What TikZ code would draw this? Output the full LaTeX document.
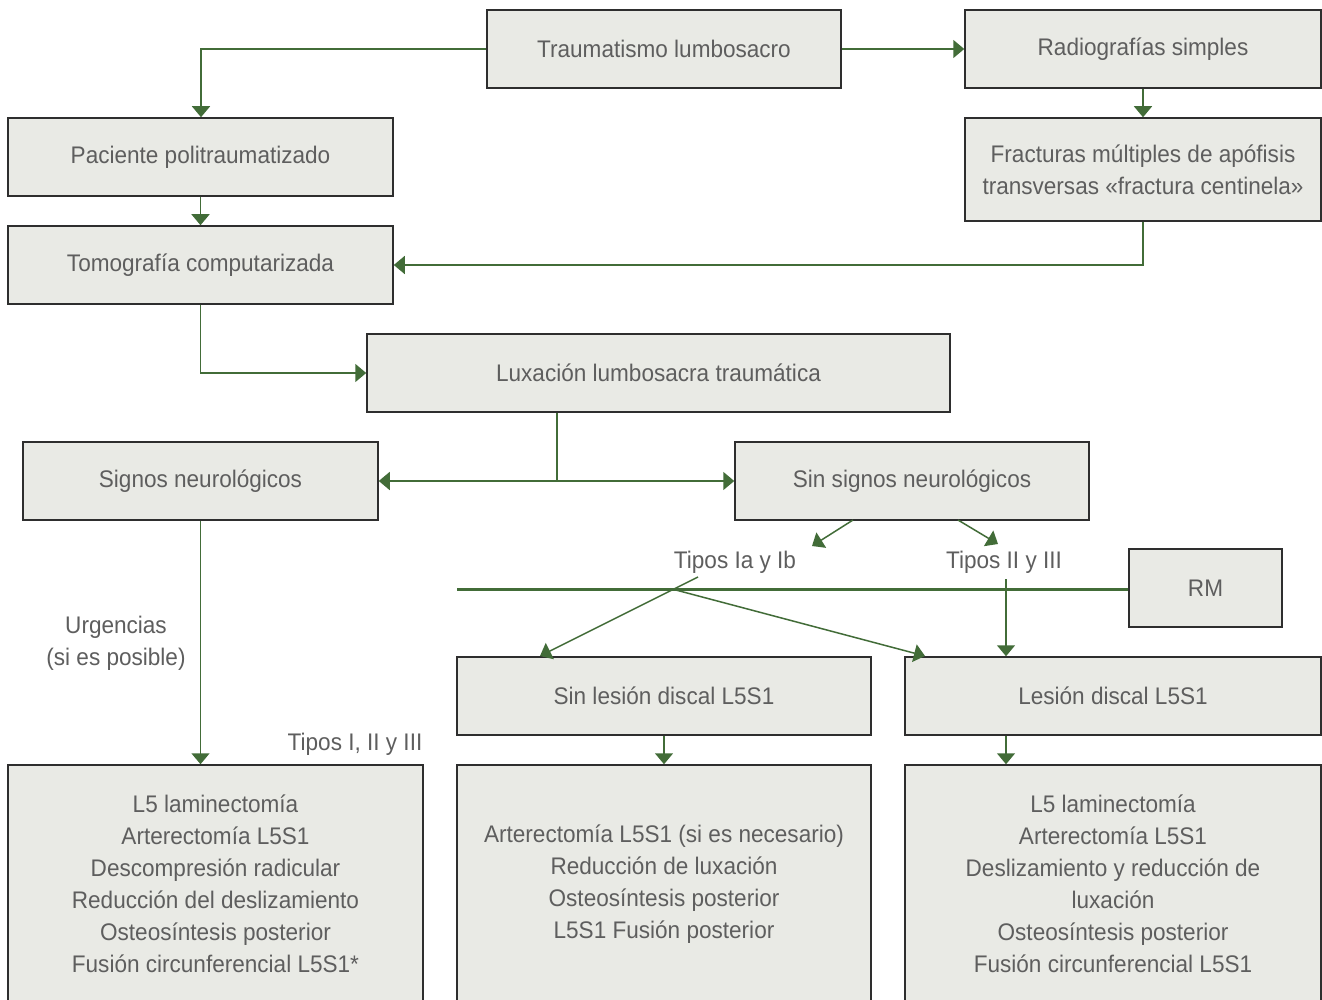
\documentclass[tikz,border=0pt]{standalone}
\usepackage{fontspec}
\setmainfont{Liberation Sans}[FakeStretch=0.94]
\usetikzlibrary{arrows.meta}
\definecolor{gfill}{HTML}{E9EAE5}
\definecolor{gline}{HTML}{426C38}
\definecolor{gtext}{HTML}{5E5E5E}
\definecolor{gborder}{HTML}{2E2E2E}
\begin{document}
\begin{tikzpicture}[x=1pt,y=-1pt,
  box/.style={draw=gborder, line width=1.5pt, fill=gfill, text=gtext, align=center,
    inner sep=0pt, font=\fontsize{24}{32}\selectfont},
  lbl/.style={text=gtext, align=center, inner sep=0pt, font=\fontsize{24}{32}\selectfont},
  conn/.style={draw=gline, line width=1.5pt},
  arr/.style={conn, -{Triangle[width=18pt,length=11pt]}},
  darr/.style={conn, {Triangle[width=18pt,length=11pt]}-{Triangle[width=18pt,length=11pt]}}]
\clip (0,0) rectangle (1322,1000);
\fill[white] (0,0) rectangle (1322,1000);

\node[box, minimum width=354pt, minimum height=78pt] (trauma) at (664,49) {Traumatismo lumbosacro};
\node[box, minimum width=356pt, minimum height=78pt] (radio) at (1143,49) {Radiografías simples};
\node[box, minimum width=385pt, minimum height=78pt] (pac) at (200.5,157) {Paciente politraumatizado};
\node[box, minimum width=356pt, minimum height=103pt] (frac) at (1143,169.5) {Fracturas múltiples de apófisis\\transversas «fractura centinela»};
\node[box, minimum width=385pt, minimum height=78pt] (tomo) at (200.5,265) {Tomografía computarizada};
\node[box, minimum width=583pt, minimum height=78pt] (lux) at (658.5,373) {Luxación lumbosacra traumática};
\node[box, minimum width=355pt, minimum height=78pt] (sig) at (200.5,481) {Signos neurológicos};
\node[box, minimum width=354pt, minimum height=78pt] (sinsig) at (912,481) {Sin signos neurológicos};
\node[box, minimum width=153pt, minimum height=78pt] (rm) at (1205.5,588) {RM};
\node[box, minimum width=414pt, minimum height=78pt] (sinles) at (664,696) {Sin lesión discal L5S1};
\node[box, minimum width=416pt, minimum height=78pt] (les) at (1113,696) {Lesión discal L5S1};

\node[box, minimum width=415pt, minimum height=238pt] (bl) at (215.5,884) {L5 laminectomía\\Arterectomía L5S1\\Descompresión radicular\\Reducción del deslizamiento\\Osteosíntesis posterior\\Fusión circunferencial L5S1*};
\node[box, minimum width=414pt, minimum height=238pt] (bm) at (664,884) {Arterectomía L5S1 (si es necesario)\\Reducción de luxación\\Osteosíntesis posterior\\L5S1 Fusión posterior};
\node[box, minimum width=416pt, minimum height=238pt] (br) at (1113,884) {L5 laminectomía\\Arterectomía L5S1\\Deslizamiento y reducción de\\luxación\\Osteosíntesis posterior\\Fusión circunferencial L5S1};

\node[lbl] (tab) at (735,562) {Tipos Ia y Ib};
\node[lbl] (t23) at (1004,562) {Tipos II y III};
\node[lbl] (urg) at (116,643) {Urgencias\\(si es posible)};
\node[lbl] (t123) at (355,744) {Tipos I, II y III};

% connectors
\draw[arr] (trauma.west) -| (pac.north -| 201,0);
\draw[arr] (trauma.east) -- (radio.west);
\draw[arr] (radio.south) -- (frac.north);
\draw[arr] (pac.south) -- (tomo.north);
\draw[arr] (frac.south) |- (tomo.east);
\draw[arr] (tomo.south) |- (lux.west);
\coordinate (split) at (557,481);
\draw[conn] (lux.south -| split) -- (split);
\draw[arr] (split) -- (sig.east);
\draw[arr] (split) -- (sinsig.west);
\coordinate (s1) at (853,520);
\coordinate (s2) at (958,520);
\coordinate (e1) at (812,546);
\coordinate (e2) at (998,544);
\draw[arr] (s1) -- (e1);
\draw[arr] (s2) -- (e2);
\coordinate (rmline) at (457,589);
\draw[draw=gline, line width=3pt] (rmline) -- (rm.west |- rmline);
\coordinate (ta) at (698,577);
\coordinate (tx) at (672,589);
\coordinate (ea) at (540,656);
\coordinate (eb) at (925,656);
\draw[arr] (ta) -- (ea);
\draw[arr] (tx) -- (eb);
\coordinate (tb) at (1006,579);
\draw[arr] (tb) -- (tb |- les.north);
\draw[arr] (sig.south) -- (bl.north -| sig.south);
\draw[arr] (sinles.south) -- (bm.north);
\draw[arr] (les.south -| 1006,0) -- (br.north -| 1006,0);
\end{tikzpicture}
\end{document}
